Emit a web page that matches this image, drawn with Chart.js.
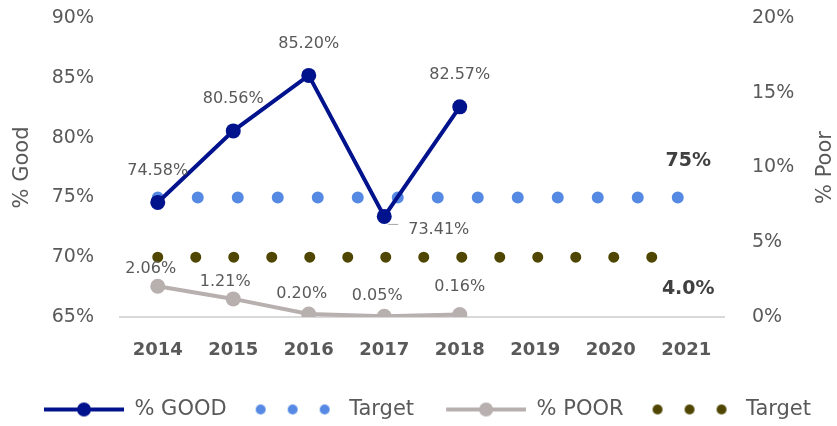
<!DOCTYPE html>
<html>
<head>
<meta charset="utf-8">
<title>% Good / % Poor</title>
<script src="https://cdn.jsdelivr.net/npm/chart.js@4"></script>
<style>
  body { margin: 0; background: #ffffff; }
  .chart-container { position: relative; width: 837px; height: 426px; }
</style>
</head>
<body>
<div class="chart-container"><canvas id="chart"></canvas></div>
<script>
// Data
const years = ['2014', '2015', '2016', '2017', '2018', '2019', '2020', '2021'];
const goodPct = [74.58, 80.56, 85.20, 73.41, 82.57];
const poorPct = [2.06, 1.21, 0.20, 0.05, 0.16];
const goodTarget = [75, 75, 75, 75, 75, 75, 75, 75];
const poorTarget = [4, 4, 4, 4, 4, 4, 4, 4];
const goodTicks = [65, 70, 75, 80, 85, 90];
const poorTicks = [0, 5, 10, 15, 20];

// Where each value label sits relative to its point (dx, dy, alignment)
const goodLabelPos = [
  { dx: 0, dy: -32 }, { dx: 0, dy: -32 }, { dx: 0, dy: -32 },
  { dx: 24, dy: 13, align: 'left', leader: true }, { dx: 0, dy: -32 }
];
const poorLabelPos = [
  { dx: -7, dy: -17 }, { dx: -8, dy: -17 }, { dx: -7, dy: -20 },
  { dx: -7, dy: -20 }, { dx: 0, dy: -28 }
];

const FONT = '"DejaVu Sans", sans-serif';
const TEXT = '#595959';
const NAVY = '#00128c';
const BLUE = '#5589e3';
const GRAY = '#b8afaf';
const OLIVE = '#4f4602';

Chart.defaults.font.family = FONT;
Chart.defaults.color = TEXT;

// legend swatches: blank lead-in, then an 80px sample
function lineIcon(color) {
  const c = document.createElement('canvas');
  c.width = 104; c.height = 20;
  const g = c.getContext('2d');
  g.strokeStyle = color; g.lineWidth = 4;
  g.beginPath(); g.moveTo(24, 10); g.lineTo(104, 10); g.stroke();
  g.fillStyle = color;
  g.beginPath(); g.arc(64, 10, 7, 0, Math.PI * 2); g.fill();
  return c;
}
function dotsIcon(color) {
  const c = document.createElement('canvas');
  c.width = 104; c.height = 20;
  const g = c.getContext('2d');
  g.fillStyle = color;
  [26, 58, 90].forEach(x => { g.beginPath(); g.arc(x, 10, 5, 0, Math.PI * 2); g.fill(); });
  return c;
}
const legendIcons = [lineIcon(NAVY), dotsIcon(BLUE), lineIcon(GRAY), dotsIcon(OLIVE)];

const valueLabels = {
  id: 'valueLabels',
  afterDatasetsDraw(chart) {
    const ctx = chart.ctx;
    ctx.save();
    ctx.textBaseline = 'middle';
    chart.data.datasets.forEach((ds, i) => {
      const meta = chart.getDatasetMeta(i);
      if (ds.labelPos) {
        ctx.font = '16px ' + FONT;
        ctx.fillStyle = TEXT;
        meta.data.forEach((pt, j) => {
          const p = ds.labelPos[j];
          if (p.leader) {
            ctx.strokeStyle = '#a6a6a6'; ctx.lineWidth = 1;
            ctx.beginPath(); ctx.moveTo(pt.x + 4, pt.y + 8); ctx.lineTo(pt.x + 14, pt.y + 8); ctx.stroke();
          }
          ctx.textAlign = p.align || 'center';
          ctx.fillText(ds.data[j].toFixed(2) + '%', pt.x + p.dx, pt.y + p.dy);
        });
      }
      if (ds.endLabel) {
        const last = meta.data[meta.data.length - 1];
        ctx.font = 'bold 19px ' + FONT;
        ctx.fillStyle = '#404040';
        ctx.textAlign = 'center';
        ctx.fillText(ds.endLabel.text, last.x + 2, last.y + ds.endLabel.dy);
      }
    });
    ctx.restore();
  }
};

const rightTitle = {
  id: 'rightTitle',
  afterDraw(chart) {
    const ctx = chart.ctx;
    const area = chart.chartArea;
    ctx.save();
    ctx.translate(chart.width - 11, (area.top + area.bottom) / 2);
    ctx.rotate(-Math.PI / 2);
    ctx.font = '21px ' + FONT;
    ctx.fillStyle = TEXT;
    ctx.textAlign = 'center';
    ctx.textBaseline = 'middle';
    ctx.fillText('% Poor', 0, 0);
    ctx.restore();
  }
};

// fixed axis widths; drop the extra tick padding Chart.js adds above/below
function fixY(width) {
  return scale => {
    scale.width = width;
    scale.paddingTop = 0;
    scale.paddingBottom = 0;
  };
}

const ctx = document.getElementById('chart').getContext('2d');
new Chart(ctx, {
  type: 'line',
  data: {
    labels: years,
    datasets: [
      {
        label: '% GOOD', data: goodPct, yAxisID: 'y',
        borderColor: NAVY, backgroundColor: NAVY, borderWidth: 4,
        pointRadius: 7.5, pointBorderWidth: 0, tension: 0,
        labelPos: goodLabelPos
      },
      {
        label: 'Target', data: goodTarget, yAxisID: 'y',
        borderColor: BLUE, borderWidth: 12, borderDash: [0, 40], borderCapStyle: 'round',
        pointRadius: 0,
        endLabel: { text: goodTarget[goodTarget.length - 1] + '%', dy: -36 }
      },
      {
        label: '% POOR', data: poorPct, yAxisID: 'y1',
        borderColor: GRAY, backgroundColor: GRAY, borderWidth: 4,
        pointRadius: 7.5, pointBorderWidth: 0, tension: 0,
        labelPos: poorLabelPos
      },
      {
        label: 'Target', data: poorTarget, yAxisID: 'y1',
        borderColor: OLIVE, borderWidth: 11, borderDash: [0, 38], borderCapStyle: 'round',
        pointRadius: 0,
        endLabel: { text: poorTarget[poorTarget.length - 1].toFixed(1) + '%', dy: 32 }
      }
    ]
  },
  options: {
    responsive: true,
    maintainAspectRatio: false,
    animation: false,
    events: [],
    layout: { padding: { top: 18, bottom: -4, left: 0, right: 6 } },
    plugins: {
      tooltip: { enabled: false },
      legend: {
        position: 'bottom',
        labels: {
          usePointStyle: true,
          pointStyleWidth: 104,
          boxHeight: 21,
          padding: 8,
          color: TEXT,
          font: { size: 21 },
          generateLabels: chart => chart.data.datasets.map((ds, i) => ({
            text: ds.label,
            pointStyle: legendIcons[i],
            fillStyle: 'transparent',
            strokeStyle: 'transparent',
            lineWidth: 0,
            hidden: false,
            datasetIndex: i,
            fontColor: TEXT
          }))
        }
      }
    },
    scales: {
      x: {
        offset: true,
        grid: { display: false, drawTicks: false, offset: true },
        border: { display: true, color: '#d9d9d9', width: 2 },
        ticks: { color: TEXT, padding: 23, font: { size: 18, weight: 'bold' } },
        afterFit(scale) { scale.height = 74; }
      },
      y: {
        position: 'left',
        min: goodTicks[0], max: goodTicks[goodTicks.length - 1],
        grid: { display: false, drawTicks: false },
        border: { display: false },
        ticks: { stepSize: goodTicks[1] - goodTicks[0], padding: 26, color: TEXT, font: { size: 19 }, callback: v => v + '%' },
        title: { display: true, text: '% Good', color: TEXT, font: { size: 21 }, padding: { top: 10, bottom: 4 } },
        afterFit: fixY(120)
      },
      y1: {
        position: 'right',
        min: poorTicks[0], max: poorTicks[poorTicks.length - 1],
        grid: { display: false, drawTicks: false },
        border: { display: false },
        ticks: { stepSize: poorTicks[1] - poorTicks[0], padding: 28, color: TEXT, font: { size: 19 }, callback: v => v + '%' },
        afterFit: fixY(107)
      }
    }
  },
  plugins: [valueLabels, rightTitle]
});
</script>
</body>
</html>
